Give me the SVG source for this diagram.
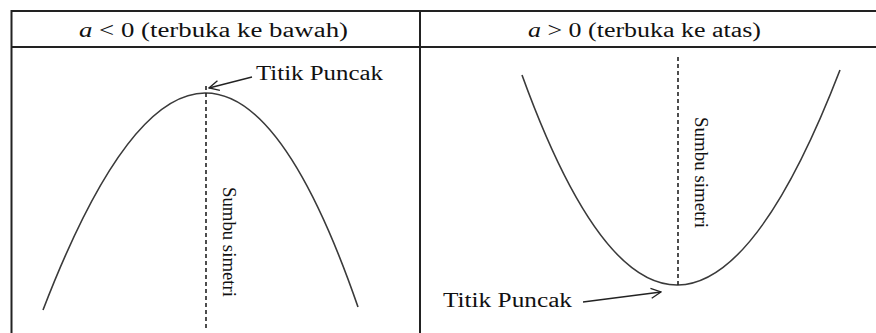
<svg xmlns="http://www.w3.org/2000/svg" width="876" height="333" viewBox="0 0 876 333">
<style>
.grid{stroke:#222;stroke-width:2;fill:none}
.curve{stroke:#3a3a3a;stroke-width:1.6;fill:none}
.axis{stroke:#222;stroke-width:1.6;stroke-dasharray:4 3;fill:none}
.arrow{stroke:#222;stroke-width:1.3;fill:none;marker-end:url(#open)}
.t{font-family:"Liberation Serif","Times New Roman",serif;fill:#111}
.h{font-size:20px}
.lbl{font-size:20px}
.sym{font-size:18px}
</style>
<defs>
<marker id="open" markerWidth="12" markerHeight="12" refX="11" refY="6" orient="auto" markerUnits="userSpaceOnUse">
<path d="M1,1 L11,6 L1,11" fill="none" stroke="#222" stroke-width="1.3"/>
</marker>
</defs>
<rect width="876" height="333" fill="#fff"/>
<g id="table">
<line class="grid" x1="11" y1="11" x2="876" y2="11"/>
<line class="grid" x1="11" y1="47" x2="876" y2="47"/>
<line class="grid" x1="11.5" y1="10" x2="11.5" y2="333"/>
<line class="grid" x1="420" y1="10" x2="420" y2="333"/>
</g>
<g id="header-left">
<text class="t h" x="79" y="37" textLength="269" lengthAdjust="spacingAndGlyphs"><tspan font-style="italic">a</tspan> &lt; 0 (terbuka ke bawah)</text>
</g>
<g id="header-right">
<text class="t h" x="528" y="37" textLength="233" lengthAdjust="spacingAndGlyphs"><tspan font-style="italic">a</tspan> &gt; 0 (terbuka ke atas)</text>
</g>
<g id="parabola-down">
<path class="curve" d="M43,310 Q209.5,-122.5 358,307"/>
<line class="axis" x1="206" y1="86" x2="206" y2="328"/>
<text class="t sym" transform="translate(223,187) rotate(90)" textLength="110" lengthAdjust="spacingAndGlyphs">Sumbu simetri</text>
</g>
<g id="vertex-label-left">
<text class="t lbl" x="256" y="80" textLength="127" lengthAdjust="spacingAndGlyphs">Titik Puncak</text>
</g>
<g id="parabola-up">
<path class="curve" d="M522,75 Q675,497.5 840,70"/>
<line class="axis" x1="678" y1="57" x2="678" y2="285"/>
<text class="t sym" transform="translate(695,117) rotate(90)" textLength="111" lengthAdjust="spacingAndGlyphs">Sumbu simetri</text>
</g>
<g id="vertex-label-right">
<text class="t lbl" x="443" y="307" textLength="129" lengthAdjust="spacingAndGlyphs">Titik Puncak</text>
</g>
<g id="connectors">
<line class="arrow" x1="252" y1="77" x2="209" y2="88"/>
<line class="arrow" x1="583" y1="302" x2="661" y2="292"/>
</g>
</svg>
